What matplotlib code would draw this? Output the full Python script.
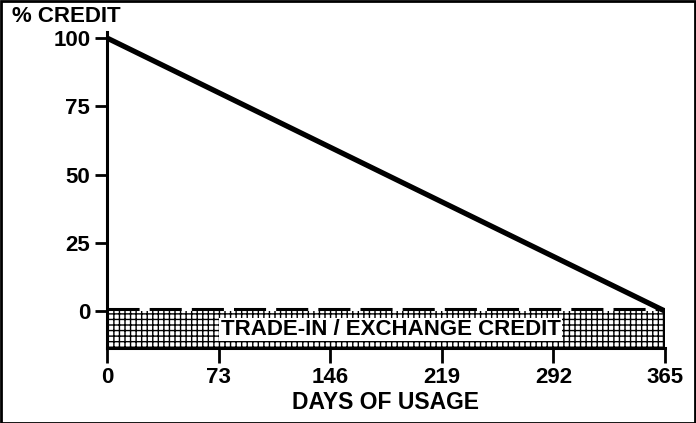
import matplotlib.pyplot as plt
import matplotlib.patches as patches

# datos
dias = [0, 365]
credito = [100, 0]
ticks_x = [0, 73, 146, 219, 292, 365]
ticks_y = [0, 25, 50, 75, 100]
banda_inf = -13.5
texto_banda = "TRADE-IN / EXCHANGE CREDIT"

plt.rcParams['font.family'] = ['Liberation Sans', 'DejaVu Sans']
plt.rcParams['font.weight'] = 'bold'
plt.rcParams['hatch.linewidth'] = 1.0

fig = plt.figure(figsize=(6.96, 4.23), dpi=100)
ax = fig.add_axes([107 / 696, 75 / 423, (665 - 107) / 696, (391 - 75) / 423])

# banda rayada
ax.fill_between(dias, [banda_inf, banda_inf], [0, 0], facecolor='white',
                edgecolor='black', hatch='+++', linewidth=0)
ax.plot(dias, [0.6, 0.6], color='black', lw=2.2, dashes=(10.5, 3.3), zorder=3)
ax.plot([dias[-1], dias[-1]], [0, banda_inf], color='black', lw=3.2,
        solid_capstyle='butt', zorder=4)

# recta de depreciacion
ax.plot(dias, credito, color='black', lw=3.8, solid_capstyle='butt', zorder=5)

ax.text(sum(dias) / 2 + 3, banda_inf / 2, texto_banda, ha='center', va='center',
        fontsize=16, fontweight='bold',
        bbox=dict(facecolor='white', edgecolor='none', pad=1.0), zorder=6)

ax.set_xlim(dias[0], dias[-1])
ax.set_ylim(banda_inf, 102.2)
ax.set_xticks(ticks_x)
ax.set_yticks(ticks_y)
ax.tick_params(axis='both', labelsize=16, width=2, length=9, direction='out', color='black')
ax.tick_params(axis='x', length=11, pad=3)
ax.tick_params(axis='y', pad=3)
for lab in ax.get_xticklabels() + ax.get_yticklabels():
    lab.set_fontweight('bold')

for s in ['top', 'right']:
    ax.spines[s].set_visible(False)
for s in ['left', 'bottom']:
    ax.spines[s].set_linewidth(2.2)

ax.set_xlabel("DAYS OF USAGE", fontsize=16.5, fontweight='bold', labelpad=2)
fig.text(12 / 696, 1 - 16 / 423, "% CREDIT", fontsize=16, fontweight='bold',
         ha='left', va='center')

# marco exterior
fig.patches.append(patches.Rectangle((0.001, 0.001), 0.997, 0.997, transform=fig.transFigure,
                                     fill=False, edgecolor='black', linewidth=2))

fig.savefig("out.png", dpi=100)
